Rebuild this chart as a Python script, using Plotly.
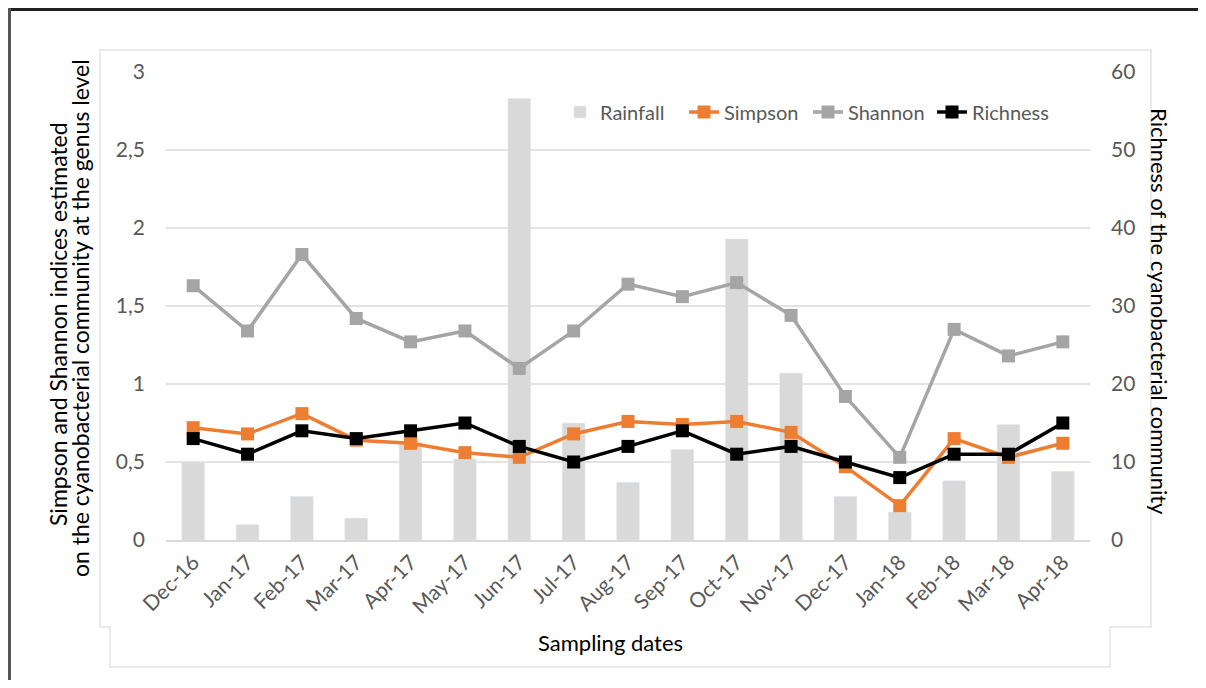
import plotly.graph_objects as go

dates = ["Dec-16", "Jan-17", "Feb-17", "Mar-17", "Apr-17", "May-17", "Jun-17", "Jul-17",
         "Aug-17", "Sep-17", "Oct-17", "Nov-17", "Dec-17", "Jan-18", "Feb-18", "Mar-18", "Apr-18"]
rainfall = [0.50, 0.10, 0.28, 0.14, 0.63, 0.52, 2.83, 0.75, 0.37, 0.58, 1.93, 1.07, 0.28, 0.18, 0.38, 0.74, 0.44]
simpson = [0.72, 0.68, 0.81, 0.64, 0.62, 0.56, 0.53, 0.68, 0.76, 0.74, 0.76, 0.69, 0.47, 0.22, 0.65, 0.53, 0.62]
shannon = [1.63, 1.34, 1.83, 1.42, 1.27, 1.34, 1.10, 1.34, 1.64, 1.56, 1.65, 1.44, 0.92, 0.53, 1.35, 1.18, 1.27]
richness = [13, 11, 14, 13, 14, 15, 12, 10, 12, 14, 11, 12, 10, 8, 11, 11, 15]

left_ticks = [0, 0.5, 1, 1.5, 2, 2.5, 3]
left_labels = ["0", "0,5", "1", "1,5", "2", "2,5", "3"]
right_ticks = [0, 10, 20, 30, 40, 50, 60]

FONT = "Lato, 'Open Sans', sans-serif"
TICK_COLOR = "#595959"

fig = go.Figure()
fig.add_trace(go.Bar(x=dates, y=rainfall, name="Rainfall", marker_color="#d9d9d9",
                     width=0.42, yaxis="y"))
fig.add_trace(go.Scatter(x=dates, y=simpson, name="Simpson", mode="lines+markers",
                         line=dict(color="#ed7d31", width=3.5),
                         marker=dict(symbol="square", size=13, color="#ed7d31"), yaxis="y"))
fig.add_trace(go.Scatter(x=dates, y=shannon, name="Shannon", mode="lines+markers",
                         line=dict(color="#a5a5a5", width=3.5),
                         marker=dict(symbol="square", size=13, color="#a5a5a5"), yaxis="y"))
fig.add_trace(go.Scatter(x=dates, y=richness, name="Richness", mode="lines+markers",
                         line=dict(color="#000000", width=3.5),
                         marker=dict(symbol="square", size=13, color="#000000"), yaxis="y2"))

# reference-pixel geometry of the plot area (page has an 8px body margin)
OFF = 8
L, R, T, B = 166, 1090, 72, 540
W, H = 1206 - 2 * OFF, 688 - 2 * OFF


def px(x):
    return (x - L) / (R - L)


def py(y):
    return (B - y) / (B - T)


shapes = [
    dict(type="line", xref="paper", yref="paper", x0=px(9), x1=px(1220), y0=py(9.5), y1=py(9.5),
         line=dict(color="#222222", width=3)),
    dict(type="line", xref="paper", yref="paper", x0=px(9.5), x1=px(9.5), y0=py(8), y1=py(700),
         line=dict(color="#555555", width=3)),
    dict(type="path", xref="paper", yref="paper",
         path=(f"M {px(100)} {py(50)} L {px(1151)} {py(50)} L {px(1151)} {py(627)} "
               f"L {px(1110)} {py(627)} L {px(1110)} {py(667)} L {px(110)} {py(667)} "
               f"L {px(110)} {py(627)} L {px(100)} {py(627)} Z"),
         line=dict(color="#e3e3e3", width=1.5)),
]

annotations = [
    dict(text="Simpson and Shannon indices estimated",
         xref="paper", yref="paper", x=px(58), y=py(324), textangle=-90, showarrow=False,
         font=dict(family=FONT, size=23, color="#000000"), xanchor="center", yanchor="middle"),
    dict(text="on the cyanobacterial community at the genus level",
         xref="paper", yref="paper", x=px(80), y=py(318), textangle=-90, showarrow=False,
         font=dict(family=FONT, size=23, color="#000000"), xanchor="center", yanchor="middle"),
    dict(text="Richness of the cyanobacterial community",
         xref="paper", yref="paper", x=px(1160), y=py(311), textangle=90, showarrow=False,
         font=dict(family=FONT, size=22, color="#000000"), xanchor="center", yanchor="middle"),
    dict(text="Sampling dates", xref="paper", yref="paper", x=px(610), y=py(642), showarrow=False,
         font=dict(family=FONT, size=22, color="#000000"), xanchor="center", yanchor="middle"),
]

fig.update_layout(
    width=W, height=H,
    margin=dict(l=L - OFF, r=W - (R - OFF), t=T - OFF, b=H - (B - OFF)),
    paper_bgcolor="white", plot_bgcolor="white",
    font=dict(family=FONT, size=20, color=TICK_COLOR),
    barmode="overlay",
    showlegend=True,
    legend=dict(orientation="h", x=px(560), y=py(112), xanchor="left", yanchor="middle",
                bgcolor="rgba(255,255,255,0)", font=dict(size=20, color=TICK_COLOR),
                traceorder="normal", itemwidth=30, entrywidth=79),
    xaxis=dict(type="category", tickangle=-45, showgrid=False, showline=True,
               linecolor="#d9d9d9", linewidth=1.5, ticks="", tickfont=dict(size=21, color=TICK_COLOR),
               range=[-0.5, 16.5]),
    yaxis=dict(range=[0, 3], tickvals=left_ticks, ticktext=left_labels, showgrid=True,
               gridcolor="#e3e3e3", gridwidth=1.5, zeroline=False, showline=False,
               ticks="", ticklabelstandoff=20, tickfont=dict(size=21, color=TICK_COLOR)),
    yaxis2=dict(range=[0, 60], tickvals=right_ticks, overlaying="y", side="right",
                showgrid=False, zeroline=False, showline=False, ticks="",
                ticklabelstandoff=20, tickfont=dict(size=21, color=TICK_COLOR)),
    shapes=shapes,
    annotations=annotations,
)

fig.write_html("out.html")
